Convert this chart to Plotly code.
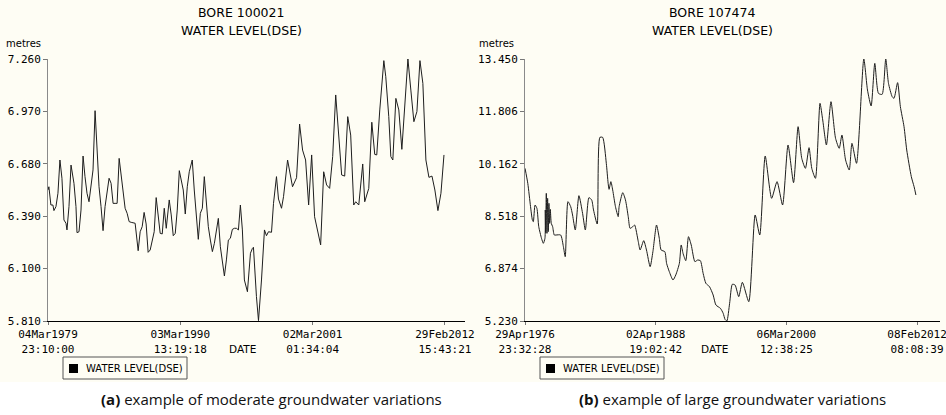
import plotly.graph_objects as go

# ---- Bore 100021: water level (DSE), metres ----
bore_a_dates = [
    "1979-03-05", "1979-04", "1979-06", "1979-08", "1979-09", "1979-11", "1980-01", "1980-03",
    "1980-05", "1980-07", "1980-09", "1980-10", "1980-12", "1981-02", "1981-05", "1981-07",
    "1981-08", "1981-10", "1981-12", "1982-02", "1982-04", "1982-06", "1982-08", "1982-10",
    "1982-12", "1983-02", "1983-04", "1983-06", "1983-08", "1983-10", "1983-12", "1984-02",
    "1984-04", "1984-06", "1984-08", "1984-10", "1984-12", "1985-02", "1985-04", "1985-06",
    "1985-08", "1985-10", "1985-12", "1986-02", "1986-04", "1986-06", "1986-09", "1986-11",
    "1987-01", "1987-03", "1987-05", "1987-07", "1987-09", "1987-11", "1988-01", "1988-03",
    "1988-05", "1988-07", "1988-09", "1988-11", "1989-01", "1989-03", "1989-04", "1989-06",
    "1989-08", "1989-10", "1989-12", "1990-02", "1990-04", "1990-06", "1990-08", "1990-10",
    "1990-12", "1991-03", "1991-05", "1991-07", "1991-09", "1991-11", "1992-01", "1992-03",
    "1992-05", "1992-07", "1992-09", "1992-11", "1993-01", "1993-03", "1993-05", "1993-07",
    "1993-09", "1993-11", "1994-01", "1994-03", "1994-05", "1994-07", "1994-09", "1994-11",
    "1995-01", "1995-03", "1995-05", "1995-07", "1995-10", "1996-01", "1996-03", "1996-04",
    "1996-07", "1996-09", "1996-12", "1997-03", "1997-05", "1997-07", "1997-10", "1997-12",
    "1998-03", "1998-05", "1998-08", "1998-10", "1999-02", "1999-05", "1999-07", "1999-11",
    "2000-02", "2000-05", "2000-08", "2000-11", "2001-02", "2001-05", "2001-08", "2001-11",
    "2002-02", "2002-05", "2002-08", "2002-11", "2003-02", "2003-05", "2003-08", "2003-11",
    "2004-02", "2004-05", "2004-08", "2004-10", "2005-01", "2005-05", "2005-07", "2005-11",
    "2006-02", "2006-05", "2006-07", "2006-10", "2007-02", "2007-04", "2007-07", "2007-09",
    "2007-11", "2008-02", "2008-05", "2008-08", "2008-11", "2009-02", "2009-05", "2009-08",
    "2009-11", "2010-02", "2010-05", "2010-08", "2010-11", "2011-02", "2011-05", "2011-08",
    "2011-11", "2012-02",
]
bore_a_level = [
    6.535, 6.553, 6.452, 6.452, 6.421, 6.443, 6.517, 6.701,
    6.600, 6.369, 6.351, 6.314, 6.443, 6.673, 6.572, 6.443,
    6.299, 6.304, 6.424, 6.723, 6.609, 6.517, 6.470, 6.553,
    6.646, 6.974, 6.775, 6.553, 6.443, 6.310, 6.443, 6.535,
    6.600, 6.572, 6.461, 6.461, 6.461, 6.710, 6.609, 6.535,
    6.434, 6.406, 6.360, 6.356, 6.354, 6.351, 6.199, 6.304,
    6.332, 6.411, 6.347, 6.190, 6.203, 6.258, 6.304, 6.493,
    6.406, 6.295, 6.292, 6.434, 6.323, 6.424, 6.480, 6.397,
    6.282, 6.295, 6.424, 6.642, 6.590, 6.535, 6.402, 6.553,
    6.636, 6.701, 6.535, 6.387, 6.262, 6.406, 6.434, 6.609,
    6.461, 6.332, 6.258, 6.194, 6.240, 6.314, 6.378, 6.221,
    6.148, 6.059, 6.148, 6.258, 6.268, 6.317, 6.323, 6.323,
    6.314, 6.452, 6.314, 6.037, 5.972, 6.185, 6.212, 6.218,
    5.945, 5.812, 6.037, 6.314, 6.282, 6.304, 6.301, 6.461,
    6.609, 6.485, 6.434, 6.498, 6.701, 6.609, 6.553, 6.603,
    6.900, 6.756, 6.701, 6.452, 6.729, 6.387, 6.314, 6.231,
    6.636, 6.563, 6.544, 6.720, 7.061, 6.849, 6.618, 6.612,
    6.941, 6.839, 6.452, 6.470, 6.452, 6.679, 6.470, 6.544,
    6.910, 6.732, 6.729, 6.978, 7.251, 7.162, 6.941, 6.720,
    6.701, 7.042, 6.978, 6.760, 7.005, 7.260, 7.088, 6.913,
    6.969, 7.251, 7.125, 6.701, 6.605, 6.612, 6.535, 6.421,
    6.517, 6.729,
]

# ---- Bore 107474: water level (DSE), metres ----
bore_b_dates = [
    "1976-05", "1976-08", "1976-11", "1977-01", "1977-02", "1977-04", "1977-06", "1977-08",
    "1977-11", "1978-01", "1978-02-24", "1978-03-07", "1978-03-18", "1978-04-10", "1978-05-02",
    "1978-05-24", "1978-06-16", "1978-07-07", "1978-07-29", "1978-08-21", "1978-09-23",
    "1978-11-07", "1979-01", "1979-03", "1979-08", "1979-11", "1980-01", "1980-04", "1980-07",
    "1980-09", "1980-12", "1981-04", "1981-08", "1981-11", "1982-03", "1982-06", "1982-08",
    "1982-12", "1983-03", "1983-06", "1983-10", "1983-12", "1984-01", "1984-03", "1984-05",
    "1984-08", "1984-11", "1984-12", "1985-04", "1985-07", "1985-10", "1985-12", "1986-03",
    "1986-05", "1986-09", "1986-11", "1987-03", "1987-06", "1987-10", "1988-01", "1988-05",
    "1988-08", "1988-10", "1989-02", "1989-04", "1989-07", "1989-11", "1990-02", "1990-06",
    "1990-08", "1990-10", "1991-01", "1991-04", "1991-07", "1991-11", "1992-02", "1992-05",
    "1992-08", "1992-11", "1993-03", "1993-07", "1993-10", "1994-03", "1994-06", "1994-08",
    "1994-10", "1995-01", "1995-04", "1995-07", "1995-11", "1996-03", "1996-10", "1997-05",
    "1997-10", "1998-04", "1998-11", "1999-05", "1999-11", "2000-05", "2000-11", "2001-04",
    "2001-08", "2001-12", "2002-04", "2002-07", "2002-11", "2003-04", "2003-07", "2003-11",
    "2004-04", "2004-09", "2005-01", "2005-04", "2005-08", "2005-12", "2006-03", "2006-08",
    "2007-04", "2007-08", "2007-12", "2008-04", "2008-08", "2008-12", "2009-04", "2009-07",
    "2009-11", "2010-01", "2010-05", "2010-08", "2010-12", "2011-03", "2011-08", "2011-11",
    "2012-01",
]
bore_b_level = [
    10.020, 9.549, 8.817, 8.399, 8.347, 8.869, 8.765, 8.190,
    7.824, 7.667, 7.824, 8.713, 8.001, 9.236, 7.980,
    9.079, 8.033, 8.922, 8.294, 8.733, 8.294,
    8.190, 7.928, 7.928, 7.928, 7.562, 7.248, 8.974, 8.817,
    8.556, 8.085, 9.162, 8.608, 8.085, 9.100, 9.026, 8.713,
    8.273, 10.992, 10.992, 10.177, 9.549, 9.361, 9.602, 9.340,
    8.817, 8.503, 8.817, 9.256, 9.026, 8.503, 8.137, 8.190,
    8.242, 7.719, 7.458, 7.751, 7.458, 6.935, 7.405, 8.242,
    7.824, 7.458, 7.405, 7.039, 6.778, 6.516, 6.673, 7.039,
    7.615, 7.353, 7.123, 7.876, 7.615, 7.092, 7.144, 7.123,
    6.725, 6.412, 6.307, 6.046, 5.732, 5.627, 5.471, 5.282,
    5.230, 5.784, 6.381, 6.360, 5.994, 6.443, 5.837, 8.556,
    7.928, 10.407, 9.079, 9.602, 8.869, 10.752, 9.570, 11.327,
    10.334, 10.020, 10.668, 10.020, 9.706, 12.059, 11.536, 10.752,
    12.111, 10.961, 10.647, 11.066, 10.281, 9.967, 10.804, 10.177,
    13.450, 12.477, 11.975, 13.314, 12.373, 12.341, 13.450, 12.687,
    12.268, 12.216, 12.708, 11.955, 11.327, 10.595, 9.758, 9.444,
    9.183,
]

# ---- axis ticks ----
bore_a_xticks = ["1979-03-04 23:10:00", "1990-03-03 13:19:18", "2001-03-02 01:34:04", "2012-02-29 15:43:21"]
bore_a_xlabels = ["04Mar1979<br>23:10:00", "03Mar1990<br>13:19:18", "02Mar2001<br>01:34:04", "29Feb2012<br>15:43:21"]
bore_a_yticks = [5.810, 6.100, 6.390, 6.680, 6.970, 7.260]

bore_b_xticks = ["1976-04-29 23:32:28", "1988-04-02 19:02:42", "2000-03-06 12:38:25", "2012-02-08 08:08:39"]
bore_b_xlabels = ["29Apr1976<br>23:32:28", "02Apr1988<br>19:02:42", "06Mar2000<br>12:38:25", "08Feb2012<br>08:08:39"]
bore_b_yticks = [5.230, 6.874, 8.518, 10.162, 11.806, 13.450]

series_name = "WATER LEVEL(DSE)"
captions = ["<b>(a)</b> example of moderate groundwater variations",
            "<b>(b)</b> example of large groundwater variations"]

CREAM = "#fefdf4"
LINE = "#1e1e1e"
MONO = "DejaVu Sans Mono"
SANS = "DejaVu Sans"
W, H = 946, 415


def px_x(p):
    return p / W


def px_y(p):
    return 1 - p / H


fig = go.Figure()

fig.add_trace(go.Scatter(x=bore_a_dates, y=bore_a_level, mode="lines", name=series_name,
                         line=dict(color=LINE, width=1), xaxis="x", yaxis="y",
                         showlegend=False, hoverinfo="x+y"))
fig.add_trace(go.Scatter(x=bore_b_dates, y=bore_b_level, mode="lines", name=series_name,
                         line=dict(color=LINE, width=1, shape="spline", smoothing=0.6),
                         xaxis="x2", yaxis="y2", showlegend=False, hoverinfo="x+y"))

ydom = [px_y(321), px_y(59)]

xaxis_common = dict(
    type="date", showgrid=False, zeroline=False, showline=True, linecolor="black", linewidth=1,
    ticks="outside", ticklen=3, tickcolor="#777", tickwidth=1, automargin=False,
    ticklabeloverflow="allow",
    tickfont=dict(family=MONO, size=11, color="black"), fixedrange=True,
)
yaxis_common = dict(
    showgrid=False, zeroline=False, showline=True, linecolor="#8a8a8a", linewidth=1,
    ticks="outside", ticklen=4, tickcolor="#777", tickwidth=1, automargin=False,
    ticklabeloverflow="allow",
    tickfont=dict(family=MONO, size=11, color="black"), fixedrange=True, domain=ydom,
)

fig.update_layout(
    width=W, height=H, margin=dict(l=0, r=0, t=0, b=0, autoexpand=False),
    paper_bgcolor="white", plot_bgcolor=CREAM, showlegend=False,
    xaxis=dict(xaxis_common, domain=[px_x(48), px_x(465)], anchor="y",
               range=["1979-03-04 23:10:00", "2013-10-31"],
               tickmode="array", tickvals=bore_a_xticks, ticktext=bore_a_xlabels),
    yaxis=dict(yaxis_common, anchor="x", range=[5.810, 7.260],
               tickmode="array", tickvals=bore_a_yticks,
               ticktext=[f"{v:.3f}" for v in bore_a_yticks]),
    xaxis2=dict(xaxis_common, domain=[px_x(525), px_x(940)], anchor="y2",
                range=["1976-04-29 23:32:28", "2014-03-14"],
                tickmode="array", tickvals=bore_b_xticks, ticktext=bore_b_xlabels),
    yaxis2=dict(yaxis_common, anchor="x2", range=[5.230, 13.450],
                tickmode="array", tickvals=bore_b_yticks,
                ticktext=[f"{v:.3f}" for v in bore_b_yticks]),
    hovermode="closest",
)

# cream panel behind both charts; the caption strip below stays white
shapes = [dict(type="rect", xref="paper", yref="paper", x0=0, x1=1, y0=px_y(382), y1=1,
               fillcolor=CREAM, line=dict(width=0), layer="below")]

ann = []
for cx, bore in [(241, "BORE 100021"), (712, "BORE 107474")]:
    ann.append(dict(text=bore, x=px_x(cx), y=px_y(12)))
    ann.append(dict(text=series_name, x=px_x(cx), y=px_y(31)))
for a in ann:
    a.update(xref="paper", yref="paper", showarrow=False, xanchor="center", yanchor="middle",
             font=dict(family=SANS, size=12.5, color="black"))

for lx in (4, 477):
    ann.append(dict(text="metres", x=px_x(lx), y=px_y(44), xref="paper", yref="paper",
                    showarrow=False, xanchor="left", yanchor="middle",
                    font=dict(family=SANS, size=10, color="black")))
for dx in (242, 714):
    ann.append(dict(text="DATE", x=px_x(dx), y=px_y(349), xref="paper", yref="paper",
                    showarrow=False, xanchor="center", yanchor="middle",
                    font=dict(family=SANS, size=10.5, color="black")))

# legend box under each chart: framed box, black square swatch, series name
for bx in (63, 540):
    shapes.append(dict(type="rect", xref="paper", yref="paper",
                       x0=px_x(bx), x1=px_x(bx + 124), y0=px_y(379), y1=px_y(357),
                       fillcolor=CREAM, line=dict(color="#555", width=1)))
    shapes.append(dict(type="rect", xref="paper", yref="paper",
                       x0=px_x(bx + 6), x1=px_x(bx + 15), y0=px_y(373), y1=px_y(364),
                       fillcolor="black", line=dict(width=0)))
    ann.append(dict(text=series_name, x=px_x(bx + 21), y=px_y(368), xref="paper", yref="paper",
                    showarrow=False, xanchor="left", yanchor="middle",
                    font=dict(family=SANS, size=10, color="black")))

for cx, cap in zip((271, 732), captions):
    ann.append(dict(text=cap, x=px_x(cx), y=px_y(399), xref="paper", yref="paper",
                    showarrow=False, xanchor="center", yanchor="middle",
                    font=dict(family="Open Sans", size=15, color="#111")))

fig.update_layout(annotations=ann, shapes=shapes)

fig.write_html("out.html")
